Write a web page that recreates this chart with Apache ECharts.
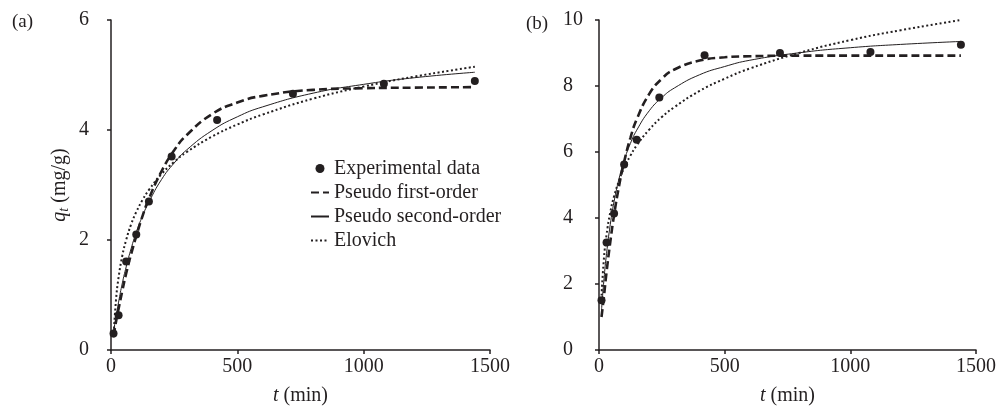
<!DOCTYPE html>
<html>
<head>
<meta charset="utf-8">
<script src="https://cdn.jsdelivr.net/npm/echarts@6/dist/echarts.min.js"></script>
<style>
    html, body { margin: 0; padding: 0; background: #fff; }
    #kinetics-chart { width: 999px; height: 411px; }
</style>
</head>
<body>
<div id="kinetics-chart"></div>
<script>
// experimental contact times (min)
var tExp = [10, 30, 60, 100, 150, 240, 420, 720, 1080, 1440];
var qExpA = [0.30, 0.63, 1.61, 2.10, 2.70, 3.52, 4.18, 4.66, 4.84, 4.89];
var qExpB = [1.51, 3.26, 4.14, 5.62, 6.37, 7.65, 8.93, 9.00, 9.03, 9.25];

// model curves
var tFit = [10, 20, 30, 45, 60, 80, 100, 125, 150, 200, 250, 300, 400, 500, 600, 800, 1000, 1200, 1440];
var pfoA = [0.26, 0.52, 0.75, 1.08, 1.39, 1.75, 2.07, 2.44, 2.75, 3.25, 3.63, 3.91, 4.29, 4.50, 4.62, 4.73, 4.76, 4.77, 4.78];
var psoA = [0.33, 0.61, 0.87, 1.22, 1.51, 1.85, 2.14, 2.44, 2.69, 3.10, 3.40, 3.64, 3.99, 4.24, 4.42, 4.67, 4.83, 4.95, 5.05];
var eloA = [0.23, 0.92, 1.32, 1.72, 2.00, 2.29, 2.51, 2.73, 2.91, 3.20, 3.42, 3.60, 3.88, 4.10, 4.28, 4.57, 4.79, 4.97, 5.15];
var pfoB = [1.00, 1.65, 2.36, 3.28, 4.09, 4.98, 5.70, 6.43, 6.99, 7.76, 8.22, 8.50, 8.77, 8.87, 8.90, 8.92, 8.92, 8.92, 8.92];
var psoB = [1.21, 2.16, 2.92, 3.81, 4.50, 5.20, 5.74, 6.26, 6.66, 7.25, 7.65, 7.94, 8.34, 8.59, 8.78, 9.01, 9.16, 9.26, 9.35];
var eloB = [1.65, 2.81, 3.49, 4.18, 4.66, 5.14, 5.52, 5.89, 6.20, 6.68, 7.06, 7.36, 7.85, 8.22, 8.53, 9.01, 9.39, 9.69, 10.00];

var names = ['Experimental data', 'Pseudo first-order', 'Pseudo second-order', 'Elovich'];
var ink = '#231f20';
var font = 'Liberation Serif';

var pairs = function (xs, ys) {
    return xs.map(function (x, i) { return [x, ys[i]]; });
};

var axisBase = {
    type: 'value',
    axisLine: { show: true, lineStyle: { color: ink, width: 1.5 } },
    axisTick: { show: true, inside: false, length: 4, lineStyle: { color: ink, width: 1.5 } },
    splitLine: { show: false },
    axisLabel: {
        color: ink, fontFamily: font, fontSize: 20,
        formatter: function (v) { return String(v); }
    }
};

var makeX = function (idx) {
    return echarts.util.merge({
        gridIndex: idx,
        min: 0,
        max: 1500,
        interval: 500,
        name: '{i|t} (min)',
        nameLocation: 'middle',
        nameGap: 36,
        nameTextStyle: {
            color: ink, fontFamily: font, fontSize: 20,
            rich: { i: { fontStyle: 'italic', fontFamily: font, fontSize: 20, color: ink } }
        },
        axisLabel: { margin: 7 }
    }, axisBase);
};

var lineSeries = function (name, idx, data, style) {
    return {
        name: name,
        type: 'line',
        xAxisIndex: idx,
        yAxisIndex: idx,
        smooth: true,
        symbol: 'none',
        data: data,
        itemStyle: { color: ink },
        lineStyle: style,
        z: 2
    };
};

var scatterSeries = function (idx, data) {
    return {
        name: names[0],
        type: 'scatter',
        xAxisIndex: idx,
        yAxisIndex: idx,
        symbol: 'circle',
        symbolSize: 8,
        itemStyle: { color: ink, opacity: 1 },
        z: 5,
        data: data
    };
};

var dashStyle = { color: ink, width: 2.6, type: [8, 4] };
var solidStyle = { color: ink, width: 1 };
var dotStyle = { color: ink, width: 2, type: [2, 2.5] };

option = {
    backgroundColor: '#fff',
    animation: false,
    textStyle: { fontFamily: font, color: ink },
    graphic: [
        { type: 'text', left: 12, top: 13, style: { text: '(a)', font: '19px "Liberation Serif"', fill: ink } },
        { type: 'text', left: 526, top: 15, style: { text: '(b)', font: '19px "Liberation Serif"', fill: ink } }
    ],
    legend: {
        data: [
            { name: names[0], itemStyle: { color: ink, opacity: 1 } },
            { name: names[1], itemStyle: { opacity: 0 } },
            { name: names[2], itemStyle: { opacity: 0 } },
            { name: names[3], itemStyle: { opacity: 0 } }
        ],
        orient: 'vertical',
        left: 305,
        top: 153,
        itemWidth: 18,
        itemHeight: 9,
        itemGap: 3,
        textStyle: { color: ink, fontFamily: font, fontSize: 20, lineHeight: 21 }
    },
    grid: [
        { left: 111, top: 20, width: 379, height: 331 },
        { left: 599, top: 20, width: 380, height: 333 }
    ],
    xAxis: [makeX(0), makeX(1)],
    yAxis: [
        echarts.util.merge({
            gridIndex: 0,
            min: 0,
            max: 6,
            interval: 2,
            name: '{i|q}{s|t} (mg/g)',
            nameLocation: 'middle',
            nameGap: 40,
            nameTextStyle: {
                color: ink, fontFamily: font, fontSize: 20,
                rich: {
                    i: { fontStyle: 'italic', fontFamily: font, fontSize: 20, color: ink },
                    s: { fontStyle: 'italic', fontFamily: font, fontSize: 14, color: ink, verticalAlign: 'bottom', padding: [8, 0, 0, 0] }
                }
            },
            axisLabel: { margin: 22 }
        }, axisBase),
        echarts.util.merge({
            gridIndex: 1,
            min: 0,
            max: 10,
            interval: 2,
            axisLabel: { margin: 36, align: 'left' }
        }, axisBase)
    ],
    series: [
        scatterSeries(0, pairs(tExp, qExpA)),
        lineSeries(names[1], 0, pairs(tFit, pfoA), dashStyle),
        lineSeries(names[2], 0, pairs(tFit, psoA), solidStyle),
        lineSeries(names[3], 0, pairs(tFit, eloA), dotStyle),
        scatterSeries(1, pairs(tExp, qExpB)),
        lineSeries(names[1], 1, pairs(tFit, pfoB), dashStyle),
        lineSeries(names[2], 1, pairs(tFit, psoB), solidStyle),
        lineSeries(names[3], 1, pairs(tFit, eloB), dotStyle)
    ]
};

var kineticsChart = echarts.init(document.getElementById('kinetics-chart'));
kineticsChart.setOption(option);
</script>
</body>
</html>
